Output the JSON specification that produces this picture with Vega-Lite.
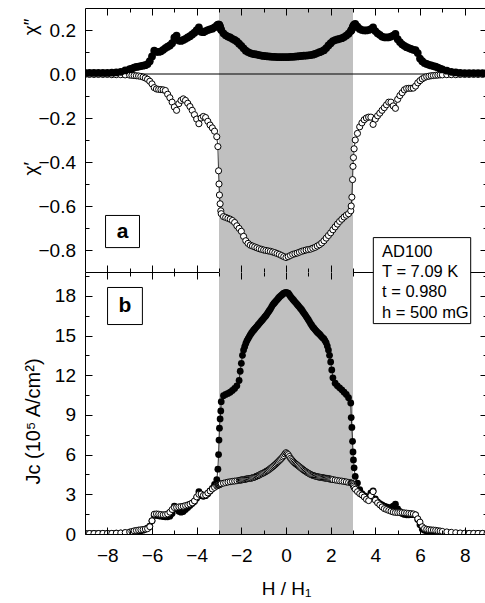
{
"$schema": "https://vega.github.io/schema/vega-lite/v6.json",
"padding": {"left": 20, "top": 7, "right": 0, "bottom": 0},
"background": "white",
"spacing": 0,
"bounds": "flush",
"config": {
  "view": {"stroke": null},
  "axis": {"labelFont": "Liberation Sans", "titleFont": "Liberation Sans", "labelFontSize": 19, "titleFontSize": 19, "titleFontWeight": "normal", "domainColor": "black", "tickColor": "black", "labelColor": "black", "titleColor": "black", "grid": false, "tickWidth": 1, "domainWidth": 1}
},
"datasets": {
"top": [
{"h":-9,"a":0.005,"b":-0.002},{"h":-8.8,"a":0.005,"b":-0.002},{"h":-8.6,"a":0.005,"b":-0.002},{"h":-8.4,"a":0.005,"b":-0.002},{"h":-8.2,"a":0.005,"b":-0.002},{"h":-8,"a":0.005,"b":-0.002},{"h":-7.8,"a":0.006,"b":-0.003},{"h":-7.6,"a":0.007,"b":-0.003},{"h":-7.4,"a":0.01,"b":-0.003},{"h":-7.2,"a":0.016,"b":-0.004},{"h":-7,"a":0.022,"b":-0.005},{"h":-6.9,"a":0.025,"b":-0.006},{"h":-6.8,"a":0.029,"b":-0.007},{"h":-6.7,"a":0.032,"b":-0.008},{"h":-6.6,"a":0.034,"b":-0.009},{"h":-6.5,"a":0.036,"b":-0.011},{"h":-6.4,"a":0.038,"b":-0.014},{"h":-6.3,"a":0.04,"b":-0.018},{"h":-6.2,"a":0.045,"b":-0.024},{"h":-6.1,"a":0.058,"b":-0.033},{"h":-6,"a":0.08,"b":-0.045},{"h":-5.9,"a":0.106,"b":-0.062},{"h":-5.8,"a":0.101,"b":-0.068},{"h":-5.7,"a":0.1,"b":-0.07},{"h":-5.6,"a":0.103,"b":-0.071},{"h":-5.5,"a":0.11,"b":-0.072},{"h":-5.4,"a":0.118,"b":-0.075},{"h":-5.3,"a":0.124,"b":-0.092},{"h":-5.2,"a":0.13,"b":-0.108},{"h":-5.1,"a":0.14,"b":-0.128},{"h":-5,"a":0.165,"b":-0.15},{"h":-4.9,"a":0.175,"b":-0.165},{"h":-4.8,"a":0.152,"b":-0.135},{"h":-4.7,"a":0.15,"b":-0.12},{"h":-4.6,"a":0.155,"b":-0.113},{"h":-4.5,"a":0.16,"b":-0.12},{"h":-4.4,"a":0.166,"b":-0.133},{"h":-4.3,"a":0.172,"b":-0.148},{"h":-4.2,"a":0.18,"b":-0.165},{"h":-4.1,"a":0.188,"b":-0.185},{"h":-4,"a":0.2,"b":-0.205},{"h":-3.9,"a":0.212,"b":-0.226},{"h":-3.8,"a":0.192,"b":-0.2},{"h":-3.7,"a":0.19,"b":-0.193},{"h":-3.6,"a":0.195,"b":-0.198},{"h":-3.5,"a":0.2,"b":-0.215},{"h":-3.4,"a":0.203,"b":-0.232},{"h":-3.3,"a":0.206,"b":-0.245},{"h":-3.2,"a":0.212,"b":-0.26},{"h":-3.1,"a":0.22,"b":-0.285},{"h":-3.05,"a":0.224,"b":-0.33},{"h":-3.02,"a":0.225,"b":-0.44},{"h":-3,"a":0.225,"b":-0.5},{"h":-2.98,"a":0.222,"b":-0.55},{"h":-2.95,"a":0.215,"b":-0.59},{"h":-2.92,"a":0.205,"b":-0.622},{"h":-2.9,"a":0.2,"b":-0.635},{"h":-2.8,"a":0.185,"b":-0.648},{"h":-2.7,"a":0.176,"b":-0.652},{"h":-2.6,"a":0.17,"b":-0.656},{"h":-2.5,"a":0.166,"b":-0.66},{"h":-2.4,"a":0.16,"b":-0.666},{"h":-2.3,"a":0.155,"b":-0.675},{"h":-2.2,"a":0.148,"b":-0.69},{"h":-2.1,"a":0.138,"b":-0.702},{"h":-2,"a":0.128,"b":-0.715},{"h":-1.9,"a":0.117,"b":-0.738},{"h":-1.8,"a":0.106,"b":-0.758},{"h":-1.7,"a":0.1,"b":-0.77},{"h":-1.6,"a":0.095,"b":-0.778},{"h":-1.5,"a":0.092,"b":-0.782},{"h":-1.4,"a":0.09,"b":-0.786},{"h":-1.3,"a":0.088,"b":-0.79},{"h":-1.2,"a":0.086,"b":-0.794},{"h":-1.1,"a":0.084,"b":-0.797},{"h":-1,"a":0.082,"b":-0.8},{"h":-0.9,"a":0.081,"b":-0.802},{"h":-0.8,"a":0.08,"b":-0.804},{"h":-0.7,"a":0.079,"b":-0.806},{"h":-0.6,"a":0.078,"b":-0.809},{"h":-0.5,"a":0.078,"b":-0.812},{"h":-0.4,"a":0.077,"b":-0.816},{"h":-0.3,"a":0.077,"b":-0.82},{"h":-0.2,"a":0.077,"b":-0.825},{"h":-0.1,"a":0.077,"b":-0.83},{"h":0,"a":0.077,"b":-0.834},{"h":0.1,"a":0.077,"b":-0.83},{"h":0.2,"a":0.078,"b":-0.825},{"h":0.3,"a":0.078,"b":-0.82},{"h":0.4,"a":0.079,"b":-0.817},{"h":0.5,"a":0.08,"b":-0.814},{"h":0.6,"a":0.081,"b":-0.81},{"h":0.7,"a":0.082,"b":-0.806},{"h":0.8,"a":0.083,"b":-0.803},{"h":0.9,"a":0.084,"b":-0.8},{"h":1,"a":0.085,"b":-0.798},{"h":1.1,"a":0.086,"b":-0.796},{"h":1.2,"a":0.088,"b":-0.792},{"h":1.3,"a":0.091,"b":-0.788},{"h":1.4,"a":0.095,"b":-0.782},{"h":1.5,"a":0.099,"b":-0.776},{"h":1.6,"a":0.103,"b":-0.768},{"h":1.7,"a":0.108,"b":-0.758},{"h":1.8,"a":0.118,"b":-0.746},{"h":1.9,"a":0.13,"b":-0.734},{"h":2,"a":0.14,"b":-0.722},{"h":2.1,"a":0.15,"b":-0.708},{"h":2.2,"a":0.154,"b":-0.695},{"h":2.3,"a":0.157,"b":-0.682},{"h":2.4,"a":0.16,"b":-0.67},{"h":2.5,"a":0.163,"b":-0.66},{"h":2.6,"a":0.168,"b":-0.65},{"h":2.7,"a":0.175,"b":-0.642},{"h":2.8,"a":0.183,"b":-0.635},{"h":2.9,"a":0.195,"b":-0.622},{"h":2.92,"a":0.198,"b":-0.6},{"h":2.95,"a":0.203,"b":-0.56},{"h":2.98,"a":0.21,"b":-0.48},{"h":3,"a":0.215,"b":-0.42},{"h":3.02,"a":0.22,"b":-0.38},{"h":3.05,"a":0.225,"b":-0.34},{"h":3.1,"a":0.228,"b":-0.3},{"h":3.2,"a":0.215,"b":-0.27},{"h":3.3,"a":0.205,"b":-0.24},{"h":3.4,"a":0.2,"b":-0.222},{"h":3.5,"a":0.198,"b":-0.208},{"h":3.6,"a":0.198,"b":-0.2},{"h":3.7,"a":0.2,"b":-0.196},{"h":3.8,"a":0.204,"b":-0.196},{"h":3.9,"a":0.212,"b":-0.229},{"h":4,"a":0.195,"b":-0.205},{"h":4.1,"a":0.185,"b":-0.19},{"h":4.2,"a":0.178,"b":-0.178},{"h":4.3,"a":0.17,"b":-0.165},{"h":4.4,"a":0.167,"b":-0.153},{"h":4.5,"a":0.166,"b":-0.14},{"h":4.6,"a":0.167,"b":-0.128},{"h":4.7,"a":0.17,"b":-0.128},{"h":4.8,"a":0.175,"b":-0.145},{"h":4.9,"a":0.182,"b":-0.156},{"h":5,"a":0.158,"b":-0.115},{"h":5.1,"a":0.145,"b":-0.098},{"h":5.2,"a":0.135,"b":-0.085},{"h":5.3,"a":0.128,"b":-0.072},{"h":5.4,"a":0.122,"b":-0.066},{"h":5.5,"a":0.118,"b":-0.065},{"h":5.6,"a":0.114,"b":-0.065},{"h":5.7,"a":0.11,"b":-0.064},{"h":5.8,"a":0.108,"b":-0.055},{"h":5.9,"a":0.095,"b":-0.04},{"h":6,"a":0.07,"b":-0.03},{"h":6.1,"a":0.058,"b":-0.022},{"h":6.2,"a":0.05,"b":-0.016},{"h":6.3,"a":0.046,"b":-0.012},{"h":6.4,"a":0.042,"b":-0.01},{"h":6.5,"a":0.039,"b":-0.008},{"h":6.6,"a":0.036,"b":-0.007},{"h":6.7,"a":0.033,"b":-0.006},{"h":6.8,"a":0.029,"b":-0.005},{"h":6.9,"a":0.025,"b":-0.004},{"h":7,"a":0.021,"b":-0.004},{"h":7.2,"a":0.015,"b":-0.003},{"h":7.4,"a":0.01,"b":-0.003},{"h":7.6,"a":0.007,"b":-0.003},{"h":7.8,"a":0.005,"b":-0.002},{"h":8,"a":0.004,"b":-0.002},{"h":8.2,"a":0.004,"b":-0.002},{"h":8.4,"a":0.004,"b":-0.002},{"h":8.6,"a":0.004,"b":-0.002},{"h":8.8,"a":0.004,"b":-0.002},{"h":9,"a":0.004,"b":-0.002}
],
"bot": [
{"h":-9,"c":0.05,"d":0.04},{"h":-8.8,"c":0.05,"d":0.04},{"h":-8.6,"c":0.05,"d":0.04},{"h":-8.4,"c":0.05,"d":0.04},{"h":-8.2,"c":0.05,"d":0.05},{"h":-8,"c":0.05,"d":0.05},{"h":-7.8,"c":0.05,"d":0.05},{"h":-7.6,"c":0.06,"d":0.06},{"h":-7.4,"c":0.07,"d":0.08},{"h":-7.2,"c":0.09,"d":0.11},{"h":-7,"c":0.11,"d":0.15},{"h":-6.9,"c":0.12,"d":0.19},{"h":-6.8,"c":0.14,"d":0.24},{"h":-6.7,"c":0.17,"d":0.27},{"h":-6.6,"c":0.2,"d":0.3},{"h":-6.5,"c":0.24,"d":0.32},{"h":-6.4,"c":0.29,"d":0.34},{"h":-6.3,"c":0.36,"d":0.37},{"h":-6.2,"c":0.45,"d":0.4},{"h":-6.1,"c":0.6,"d":0.55},{"h":-6,"c":1,"d":1},{"h":-5.9,"c":1.42,"d":1.5},{"h":-5.8,"c":1.4,"d":1.52},{"h":-5.7,"c":1.38,"d":1.5},{"h":-5.6,"c":1.35,"d":1.47},{"h":-5.5,"c":1.32,"d":1.45},{"h":-5.4,"c":1.3,"d":1.47},{"h":-5.3,"c":1.3,"d":1.52},{"h":-5.2,"c":1.35,"d":1.65},{"h":-5.1,"c":1.55,"d":1.85},{"h":-5,"c":2.1,"d":2},{"h":-4.9,"c":1.9,"d":2.02},{"h":-4.8,"c":1.72,"d":2.05},{"h":-4.7,"c":1.65,"d":2.07},{"h":-4.6,"c":1.7,"d":2.1},{"h":-4.5,"c":1.85,"d":2.15},{"h":-4.4,"c":2,"d":2.2},{"h":-4.3,"c":2.15,"d":2.26},{"h":-4.2,"c":2.3,"d":2.35},{"h":-4.1,"c":2.45,"d":2.5},{"h":-4,"c":2.7,"d":2.8},{"h":-3.9,"c":3.2,"d":3},{"h":-3.8,"c":2.9,"d":3.02},{"h":-3.7,"c":2.85,"d":2.92},{"h":-3.6,"c":2.9,"d":2.95},{"h":-3.5,"c":3.05,"d":3.1},{"h":-3.4,"c":3.25,"d":3.25},{"h":-3.3,"c":3.45,"d":3.4},{"h":-3.2,"c":3.75,"d":3.52},{"h":-3.1,"c":4.1,"d":3.62},{"h":-3.05,"c":4.9,"d":3.68},{"h":-3.02,"c":6,"d":3.7},{"h":-3,"c":7.1,"d":3.72},{"h":-2.98,"c":8,"d":3.74},{"h":-2.95,"c":8.7,"d":3.76},{"h":-2.92,"c":9.3,"d":3.78},{"h":-2.9,"c":10,"d":3.8},{"h":-2.8,"c":10.45,"d":3.84},{"h":-2.7,"c":10.55,"d":3.88},{"h":-2.6,"c":10.62,"d":3.92},{"h":-2.5,"c":10.72,"d":3.95},{"h":-2.4,"c":10.85,"d":3.98},{"h":-2.3,"c":11,"d":4},{"h":-2.2,"c":11.2,"d":4.02},{"h":-2.1,"c":11.6,"d":4.05},{"h":-2.05,"c":12.3,"d":4.07},{"h":-2,"c":12.9,"d":4.08},{"h":-1.95,"c":13.5,"d":4.1},{"h":-1.9,"c":13.9,"d":4.12},{"h":-1.85,"c":14.15,"d":4.13},{"h":-1.8,"c":14.4,"d":4.15},{"h":-1.75,"c":14.6,"d":4.16},{"h":-1.7,"c":14.75,"d":4.18},{"h":-1.65,"c":14.9,"d":4.19},{"h":-1.6,"c":15.05,"d":4.2},{"h":-1.55,"c":15.18,"d":4.22},{"h":-1.5,"c":15.3,"d":4.25},{"h":-1.45,"c":15.4,"d":4.27},{"h":-1.4,"c":15.5,"d":4.3},{"h":-1.35,"c":15.6,"d":4.34},{"h":-1.3,"c":15.7,"d":4.38},{"h":-1.25,"c":15.8,"d":4.41},{"h":-1.2,"c":15.9,"d":4.45},{"h":-1.15,"c":16,"d":4.5},{"h":-1.1,"c":16.1,"d":4.55},{"h":-1.05,"c":16.2,"d":4.58},{"h":-1,"c":16.3,"d":4.62},{"h":-0.95,"c":16.4,"d":4.67},{"h":-0.9,"c":16.5,"d":4.72},{"h":-0.85,"c":16.62,"d":4.77},{"h":-0.8,"c":16.75,"d":4.82},{"h":-0.75,"c":16.88,"d":4.88},{"h":-0.7,"c":17,"d":4.95},{"h":-0.65,"c":17.15,"d":5.01},{"h":-0.6,"c":17.3,"d":5.08},{"h":-0.55,"c":17.4,"d":5.15},{"h":-0.5,"c":17.5,"d":5.22},{"h":-0.45,"c":17.6,"d":5.3},{"h":-0.4,"c":17.7,"d":5.38},{"h":-0.35,"c":17.8,"d":5.46},{"h":-0.3,"c":17.9,"d":5.55},{"h":-0.25,"c":17.98,"d":5.63},{"h":-0.2,"c":18.05,"d":5.72},{"h":-0.15,"c":18.12,"d":5.82},{"h":-0.1,"c":18.2,"d":5.92},{"h":-0.05,"c":18.23,"d":6.05},{"h":0,"c":18.25,"d":6.15},{"h":0.05,"c":18.23,"d":6.08},{"h":0.1,"c":18.2,"d":6},{"h":0.15,"c":18.08,"d":5.86},{"h":0.2,"c":17.95,"d":5.72},{"h":0.25,"c":17.85,"d":5.62},{"h":0.3,"c":17.75,"d":5.52},{"h":0.35,"c":17.65,"d":5.43},{"h":0.4,"c":17.55,"d":5.35},{"h":0.45,"c":17.45,"d":5.28},{"h":0.5,"c":17.35,"d":5.22},{"h":0.55,"c":17.25,"d":5.15},{"h":0.6,"c":17.15,"d":5.08},{"h":0.65,"c":17.05,"d":5.01},{"h":0.7,"c":16.95,"d":4.95},{"h":0.75,"c":16.82,"d":4.88},{"h":0.8,"c":16.7,"d":4.82},{"h":0.85,"c":16.58,"d":4.76},{"h":0.9,"c":16.45,"d":4.7},{"h":0.95,"c":16.32,"d":4.65},{"h":1,"c":16.2,"d":4.6},{"h":1.05,"c":16.05,"d":4.55},{"h":1.1,"c":15.9,"d":4.5},{"h":1.15,"c":15.78,"d":4.46},{"h":1.2,"c":15.65,"d":4.43},{"h":1.25,"c":15.55,"d":4.4},{"h":1.3,"c":15.45,"d":4.38},{"h":1.35,"c":15.35,"d":4.35},{"h":1.4,"c":15.25,"d":4.33},{"h":1.45,"c":15.18,"d":4.31},{"h":1.5,"c":15.1,"d":4.3},{"h":1.55,"c":15,"d":4.28},{"h":1.6,"c":14.9,"d":4.27},{"h":1.65,"c":14.82,"d":4.25},{"h":1.7,"c":14.75,"d":4.24},{"h":1.75,"c":14.6,"d":4.22},{"h":1.8,"c":14.45,"d":4.21},{"h":1.85,"c":14.2,"d":4.2},{"h":1.9,"c":13.9,"d":4.18},{"h":1.95,"c":13.5,"d":4.16},{"h":2,"c":13,"d":4.15},{"h":2.05,"c":12.4,"d":4.13},{"h":2.1,"c":11.8,"d":4.11},{"h":2.2,"c":11.4,"d":4.08},{"h":2.3,"c":11.2,"d":4.05},{"h":2.4,"c":11.05,"d":4.02},{"h":2.5,"c":10.9,"d":4},{"h":2.6,"c":10.72,"d":3.97},{"h":2.7,"c":10.55,"d":3.94},{"h":2.8,"c":10.3,"d":3.9},{"h":2.9,"c":9.9,"d":3.86},{"h":2.92,"c":8.8,"d":3.85},{"h":2.95,"c":8.05,"d":3.84},{"h":2.98,"c":7,"d":3.8},{"h":3,"c":6.2,"d":3.72},{"h":3.02,"c":5.6,"d":3.62},{"h":3.05,"c":5,"d":3.5},{"h":3.1,"c":4.35,"d":3.38},{"h":3.2,"c":3.85,"d":3.2},{"h":3.3,"c":3.35,"d":3.05},{"h":3.4,"c":3.05,"d":2.95},{"h":3.5,"c":2.9,"d":2.8},{"h":3.6,"c":2.8,"d":2.62},{"h":3.7,"c":2.8,"d":2.52},{"h":3.8,"c":3.1,"d":2.9},{"h":3.9,"c":3.25,"d":3.2},{"h":4,"c":2.65,"d":2.55},{"h":4.1,"c":2.42,"d":2.35},{"h":4.2,"c":2.3,"d":2.2},{"h":4.3,"c":2.2,"d":2.05},{"h":4.4,"c":2.1,"d":1.92},{"h":4.5,"c":2.05,"d":1.85},{"h":4.6,"c":2,"d":1.78},{"h":4.7,"c":2,"d":1.72},{"h":4.8,"c":2.1,"d":1.66},{"h":4.9,"c":2.25,"d":1.63},{"h":5,"c":1.9,"d":1.62},{"h":5.1,"c":1.7,"d":1.62},{"h":5.2,"c":1.55,"d":1.62},{"h":5.3,"c":1.48,"d":1.6},{"h":5.4,"c":1.45,"d":1.58},{"h":5.5,"c":1.45,"d":1.56},{"h":5.6,"c":1.46,"d":1.54},{"h":5.7,"c":1.48,"d":1.52},{"h":5.8,"c":1.45,"d":1.45},{"h":5.9,"c":1.1,"d":1.15},{"h":6,"c":0.7,"d":0.9},{"h":6.1,"c":0.37,"d":0.55},{"h":6.2,"c":0.28,"d":0.42},{"h":6.3,"c":0.22,"d":0.36},{"h":6.4,"c":0.19,"d":0.33},{"h":6.5,"c":0.17,"d":0.31},{"h":6.6,"c":0.15,"d":0.3},{"h":6.7,"c":0.13,"d":0.28},{"h":6.8,"c":0.11,"d":0.25},{"h":6.9,"c":0.1,"d":0.23},{"h":7,"c":0.08,"d":0.2},{"h":7.2,"c":0.06,"d":0.16},{"h":7.4,"c":0.05,"d":0.13},{"h":7.6,"c":0.05,"d":0.1},{"h":7.8,"c":0.04,"d":0.08},{"h":8,"c":0.04,"d":0.06},{"h":8.2,"c":0.04,"d":0.05},{"h":8.4,"c":0.04,"d":0.05},{"h":8.6,"c":0.04,"d":0.05},{"h":8.8,"c":0.04,"d":0.05},{"h":9,"c":0.04,"d":0.05}
]
},
"vconcat": [
{
 "width": 402, "height": 264,
 "resolve": {"axis": {"x": "independent", "y": "independent"}},
 "layer": [
  {"data": {"values": [{"x1": -3, "x2": 3}]},
   "mark": {"type": "rect", "color": "#c0c0c0"},
   "encoding": {
    "x": {"field": "x1", "type": "quantitative", "scale": {"domain": [-9, 9], "nice": false},
          "axis": {"orient": "bottom", "values": [-8,-7,-6,-5,-4,-3,-2,-1,0,1,2,3,4,5,6,7,8], "tickSize": {"condition": {"test": "datum.value % 2 === 0", "value": -7}, "value": -4}, "labels": false, "title": null, "zindex": 1}},
    "x2": {"field": "x2"}}},
  {"data": {"values": [{"z": 0}]},
   "mark": {"type": "rule", "color": "black", "strokeWidth": 1},
   "encoding": {"y": {"field": "z", "type": "quantitative", "scale": {"domain": [-0.9, 0.3], "nice": false, "zero": false}, "axis": null}}},
  {"data": {"name": "top"},
   "mark": {"type": "line", "color": "black", "strokeWidth": 0.8, "clip": true},
   "encoding": {
    "x": {"field": "h", "type": "quantitative", "scale": {"domain": [-9, 9], "nice": false}, "axis": null},
    "y": {"field": "b", "type": "quantitative", "scale": {"domain": [-0.9, 0.3], "nice": false, "zero": false}, "axis": null}}},
  {"data": {"name": "top"},
   "mark": {"type": "point", "shape": "circle", "fill": "white", "stroke": "black", "strokeWidth": 1, "size": 38, "opacity": 1, "clip": true},
   "encoding": {
    "x": {"field": "h", "type": "quantitative", "scale": {"domain": [-9, 9], "nice": false},
          "axis": {"orient": "top", "values": [-8,-7,-6,-5,-4,-3,-2,-1,0,1,2,3,4,5,6,7,8], "tickSize": {"condition": {"test": "datum.value % 2 === 0", "value": -7}, "value": -4}, "labels": false, "title": null, "zindex": 1}},
    "y": {"field": "b", "type": "quantitative", "scale": {"domain": [-0.9, 0.3], "nice": false, "zero": false},
          "axis": {"orient": "left", "values": [-0.8,-0.7,-0.6,-0.5,-0.4,-0.3,-0.2,-0.1,0,0.1,0.2], "tickSize": {"condition": {"test": "round(datum.value*10) % 2 === 0", "value": -7}, "value": -4}, "labelExpr": "round(datum.value*10) % 2 === 0 ? format(datum.value, '.1f') : ''", "labelPadding": 16.5, "title": "χ′\u00a0\u00a0\u00a0\u00a0\u00a0\u00a0\u00a0\u00a0\u00a0\u00a0\u00a0\u00a0\u00a0\u00a0\u00a0\u00a0\u00a0\u00a0\u00a0\u00a0\u00a0\u00a0\u00a0\u00a0χ″", "titleX": -45, "titleY": 88.5, "zindex": 1}}}},
  {"data": {"name": "top"},
   "mark": {"type": "circle", "color": "black", "size": 60, "opacity": 1, "clip": true},
   "encoding": {
    "x": {"field": "h", "type": "quantitative", "scale": {"domain": [-9, 9], "nice": false}, "axis": null},
    "y": {"field": "a", "type": "quantitative", "scale": {"domain": [-0.9, 0.3], "nice": false, "zero": false},
          "axis": {"orient": "right", "values": [-0.8,-0.7,-0.6,-0.5,-0.4,-0.3,-0.2,-0.1,0,0.1,0.2], "tickSize": {"condition": {"test": "round(datum.value*10) % 2 === 0", "value": -7}, "value": -4}, "labels": false, "title": null, "zindex": 1}}}},
  {"data": {"values": [{"x1": -8.08, "x2": -6.56, "y1": -0.643, "y2": -0.789}]},
   "mark": {"type": "rect", "fill": "white", "stroke": "black", "strokeWidth": 1},
   "encoding": {
    "x": {"field": "x1", "type": "quantitative", "scale": {"domain": [-9, 9], "nice": false}, "axis": null},
    "x2": {"field": "x2"},
    "y": {"field": "y1", "type": "quantitative", "scale": {"domain": [-0.9, 0.3], "nice": false, "zero": false}, "axis": null},
    "y2": {"field": "y2"}}},
  {"data": {"values": [{"x": -7.32, "y": -0.716, "t": "a"}]},
   "mark": {"type": "text", "font": "Liberation Sans", "fontSize": 21, "fontWeight": "bold", "baseline": "middle", "align": "center", "color": "black"},
   "encoding": {
    "x": {"field": "x", "type": "quantitative", "scale": {"domain": [-9, 9], "nice": false}, "axis": null},
    "y": {"field": "y", "type": "quantitative", "scale": {"domain": [-0.9, 0.3], "nice": false, "zero": false}, "axis": null},
    "text": {"field": "t"}}}
 ]
},
{
 "width": 402, "height": 262,
 "resolve": {"axis": {"x": "independent", "y": "independent"}},
 "layer": [
  {"data": {"values": [{"x1": -3, "x2": 3}]},
   "mark": {"type": "rect", "color": "#c0c0c0"},
   "encoding": {
    "x": {"field": "x1", "type": "quantitative", "scale": {"domain": [-9, 9], "nice": false},
          "axis": {"orient": "bottom", "values": [-8,-7,-6,-5,-4,-3,-2,-1,0,1,2,3,4,5,6,7,8], "tickSize": {"condition": {"test": "datum.value % 2 === 0", "value": -7}, "value": -4}, "labelExpr": "datum.value % 2 === 0 ? format(datum.value, 'd') : ''", "labelPadding": 19, "title": "H / H₁", "titleY": 60, "titleBaseline": "alphabetic", "zindex": 1}},
    "x2": {"field": "x2"}}},
  {"data": {"name": "bot"},
   "mark": {"type": "line", "color": "black", "strokeWidth": 0.8, "clip": true},
   "encoding": {
    "x": {"field": "h", "type": "quantitative", "scale": {"domain": [-9, 9], "nice": false}, "axis": null},
    "y": {"field": "c", "type": "quantitative", "scale": {"domain": [0, 19.8], "nice": false}, "axis": null}}},
  {"data": {"name": "bot"},
   "mark": {"type": "circle", "color": "black", "size": 46, "opacity": 1, "clip": true},
   "encoding": {
    "x": {"field": "h", "type": "quantitative", "scale": {"domain": [-9, 9], "nice": false},
          "axis": {"orient": "top", "values": [-8,-7,-6,-5,-4,-3,-2,-1,0,1,2,3], "tickSize": {"condition": {"test": "datum.value % 2 === 0", "value": -7}, "value": -4}, "labels": false, "domain": false, "title": null, "zindex": 1}},
    "y": {"field": "c", "type": "quantitative", "scale": {"domain": [0, 19.8], "nice": false},
          "axis": {"orient": "left", "values": [0,1.5,3,4.5,6,7.5,9,10.5,12,13.5,15,16.5,18,19.5], "tickSize": {"condition": {"test": "datum.value % 3 === 0", "value": -7}, "value": -4}, "labelExpr": "datum.value % 3 === 0 ? format(datum.value, 'd') : ''", "labelPadding": 16.5, "title": "Jᴄ (10⁵ A/cm²)", "titleFontSize": 20, "titleX": -42, "titleY": 149, "zindex": 1}}}},
  {"data": {"name": "bot"},
   "mark": {"type": "point", "shape": "circle", "fill": "white", "stroke": "black", "strokeWidth": 1, "size": 36, "opacity": 1, "clip": true},
   "encoding": {
    "x": {"field": "h", "type": "quantitative", "scale": {"domain": [-9, 9], "nice": false}, "axis": null},
    "y": {"field": "d", "type": "quantitative", "scale": {"domain": [0, 19.8], "nice": false},
          "axis": {"orient": "right", "values": [0,1.5,3,4.5,6,7.5,9,10.5,12,13.5,15,16.5,18,19.5], "tickSize": {"condition": {"test": "datum.value % 3 === 0", "value": -7}, "value": -4}, "labels": false, "title": null, "zindex": 1}}}},
  {"data": {"values": [{"x1": -7.99, "x2": -6.43, "y1": 18.63, "y2": 15.83}]},
   "mark": {"type": "rect", "fill": "white", "stroke": "black", "strokeWidth": 1},
   "encoding": {
    "x": {"field": "x1", "type": "quantitative", "scale": {"domain": [-9, 9], "nice": false}, "axis": null},
    "x2": {"field": "x2"},
    "y": {"field": "y1", "type": "quantitative", "scale": {"domain": [0, 19.8], "nice": false}, "axis": null},
    "y2": {"field": "y2"}}},
  {"data": {"values": [{"x": -7.21, "y": 17.25, "t": "b"}]},
   "mark": {"type": "text", "font": "Liberation Sans", "fontSize": 21, "fontWeight": "bold", "baseline": "middle", "align": "center", "color": "black"},
   "encoding": {
    "x": {"field": "x", "type": "quantitative", "scale": {"domain": [-9, 9], "nice": false}, "axis": null},
    "y": {"field": "y", "type": "quantitative", "scale": {"domain": [0, 19.8], "nice": false}, "axis": null},
    "text": {"field": "t"}}},
  {"data": {"values": [{"x1": 3.91, "x2": 8.27, "y1": 22.4, "y2": 15.9}]},
   "mark": {"type": "rect", "fill": "white", "stroke": "black", "strokeWidth": 1, "clip": false},
   "encoding": {
    "x": {"field": "x1", "type": "quantitative", "scale": {"domain": [-9, 9], "nice": false}, "axis": null},
    "x2": {"field": "x2"},
    "y": {"field": "y1", "type": "quantitative", "scale": {"domain": [0, 19.8], "nice": false}, "axis": null},
    "y2": {"field": "y2"}}},
  {"data": {"values": [{"x": 4.3, "y": 20.9, "t": "AD100"}, {"x": 4.3, "y": 19.39, "t": "T = 7.09 K"}, {"x": 4.3, "y": 17.88, "t": "t = 0.980"}, {"x": 4.3, "y": 16.36, "t": "h = 500 mG"}]},
   "mark": {"type": "text", "font": "Liberation Sans", "fontSize": 16.5, "baseline": "alphabetic", "align": "left", "color": "black", "clip": false},
   "encoding": {
    "x": {"field": "x", "type": "quantitative", "scale": {"domain": [-9, 9], "nice": false}, "axis": null},
    "y": {"field": "y", "type": "quantitative", "scale": {"domain": [0, 19.8], "nice": false}, "axis": null},
    "text": {"field": "t"}}}
 ]
}
]
}
